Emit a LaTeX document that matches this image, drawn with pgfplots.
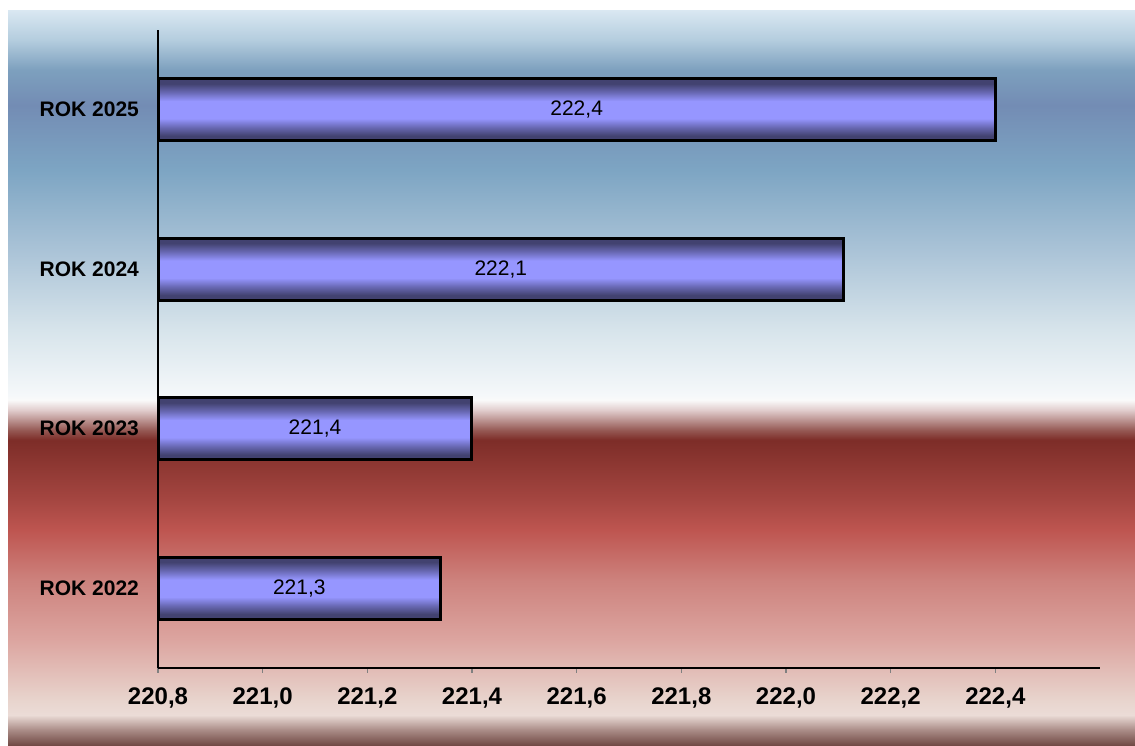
\documentclass[border=0pt]{standalone}
\usepackage{fontspec}
\setmainfont{Liberation Sans}
\usepackage{pgfplots}
\pgfplotsset{compat=1.18}

\definecolor{bg00}{RGB}{110,70,65}
\definecolor{bg01}{RGB}{170,140,135}
\definecolor{bg02}{RGB}{235,220,215}
\definecolor{bg03}{RGB}{232,212,205}
\definecolor{bg04}{RGB}{220,165,160}
\definecolor{bg05}{RGB}{205,130,125}
\definecolor{bg06}{RGB}{190,85,80}
\definecolor{bg07}{RGB}{165,70,65}
\definecolor{bg08}{RGB}{125,45,40}
\definecolor{bg09}{RGB}{150,90,85}
\definecolor{bg10}{RGB}{225,205,205}
\definecolor{bg11}{RGB}{250,250,250}
\definecolor{bg12}{RGB}{245,248,250}
\definecolor{bg13}{RGB}{215,228,235}
\definecolor{bg14}{RGB}{170,195,215}
\definecolor{bg15}{RGB}{125,165,195}
\definecolor{bg16}{RGB}{115,140,180}
\definecolor{bg17}{RGB}{125,160,190}
\definecolor{bg18}{RGB}{180,205,222}
\definecolor{bg19}{RGB}{218,232,242}

\definecolor{bdark}{RGB}{66,66,112}
\definecolor{bmid}{RGB}{105,105,180}
\definecolor{blight}{RGB}{150,150,255}

\pgfdeclareverticalshading{bgshade}{563.5bp}{%
color(0bp)=(bg00); color(8bp)=(bg01); color(15.5bp)=(bg02); color(23bp)=(bg03);
color(53bp)=(bg04); color(83bp)=(bg05); color(108bp)=(bg06); color(123bp)=(bg07);
color(153bp)=(bg08); color(158bp)=(bg09); color(168bp)=(bg10); color(173bp)=(bg11);
color(175.5bp)=(bg12); color(208bp)=(bg13); color(248bp)=(bg14); color(288bp)=(bg15);
color(320.5bp)=(bg16); color(338bp)=(bg17); color(353bp)=(bg18); color(368bp)=(bg19)}

\pgfdeclareverticalshading{barsh}{100bp}{%
color(0bp)=(bdark); color(25bp)=(bdark); color(29bp)=(bdark); color(36bp)=(bmid);
color(43bp)=(blight); color(57bp)=(blight); color(64bp)=(bmid); color(71bp)=(bdark);
color(75bp)=(bdark); color(100bp)=(bdark)}

\begin{document}
\begin{tikzpicture}
\path[use as bounding box] (0,0) rectangle (567.5bp,373bp);
\node[inner sep=0pt, outer sep=0pt, anchor=south west] at (4bp,0bp) {\pgfuseshading{bgshade}};
\begin{axis}[
  at={(79bp,39bp)}, anchor=south west,
  scale only axis, width=471bp, height=319bp,
  xbar, bar width=31bp, bar shift=0pt,
  xmin=220.8, xmax=222.6, ymin=-0.5, ymax=3.5,
  x coord trafo/.code={\pgfmathparse{#1-220.8}},
  x coord inv trafo/.code={\pgfmathparse{#1+220.8}},
  axis x line=bottom, axis y line=left,
  axis line style={-, black, line width=0.75bp},
  axis on top, clip=false,
  xtick={220.8,221.0,221.2,221.4,221.6,221.8,222.0,222.2,222.4},
  xticklabels={{220,8},{221,0},{221,2},{221,4},{221,6},{221,8},{222,0},{222,2},{222,4}},
  ytick={0,1,2,3},
  yticklabels={ROK 2022,ROK 2023,ROK 2024,ROK 2025},
  tick align=outside, major tick length=2.5bp,
  xtick style={draw=gray, line width=0.6bp},
  ytick style={draw=none},
  xticklabel style={font=\fontsize{12bp}{14bp}\selectfont\bfseries, yshift=-4bp},
  yticklabel style={font=\fontsize{10.5bp}{12bp}\selectfont\bfseries, xshift=-3.5bp},
  /pgf/number format/assume math mode=true,
  nodes near coords={\pgfmathprintnumber[fixed,fixed zerofill,precision=1,use comma]{\pgfplotspointmeta}},
  point meta=rawx,
  visualization depends on={rawx \as \rx},
  every node near coord/.append style={anchor=center, black,
     font=\fontsize{10.5bp}{12bp}\selectfont,
     xshift={-(\rx-220.8)*130.8333bp}},
  barstyle/.style={draw=black, line width=1.5bp, shading=barsh, shade},
]
\addplot[barstyle] coordinates {(221.34,0)};
\addplot[barstyle] coordinates {(221.4,1)};
\addplot[barstyle] coordinates {(222.11,2)};
\addplot[barstyle] coordinates {(222.4,3)};
\end{axis}
\end{tikzpicture}
\end{document}
